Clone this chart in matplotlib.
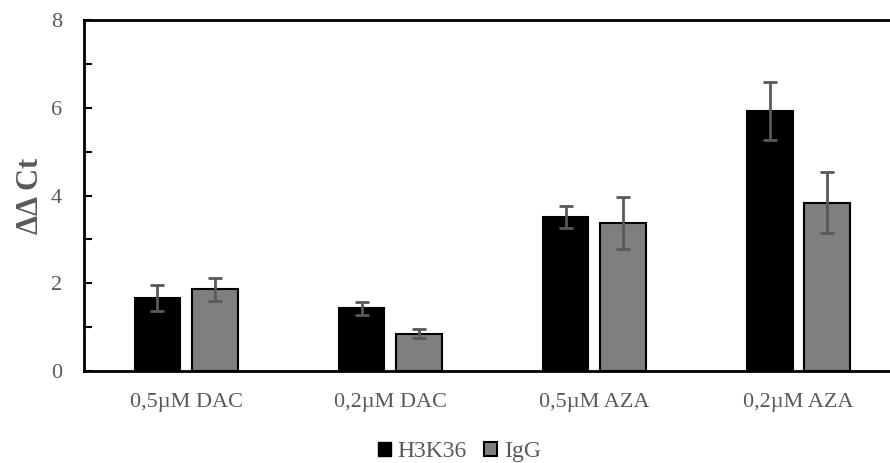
import numpy as np, matplotlib
matplotlib.use("Agg"); import matplotlib.pyplot as plt
from matplotlib.patches import Patch
plt.rcParams.update({"font.family":["Liberation Serif","DejaVu Serif"],"font.size":11})

groups=["0,5µM DAC","0,2µM DAC","0,5µM AZA","0,2µM AZA"]
h3k36=[1.67,1.43,3.50,5.92]
h3k36_err=[0.30,0.15,0.25,0.66]
igg=[1.86,0.85,3.37,3.84]
igg_err=[0.27,0.10,0.60,0.69]

txt="#595959"
fig=plt.figure(figsize=(8.9,4.63),dpi=100)
ax=fig.add_axes([0.0944,0.1987,0.917,0.758])
x=np.arange(len(groups)); w=0.225; off=0.14
ekw=dict(ecolor="#595959",elinewidth=2,capsize=5,capthick=2)
ax.bar(x-off,h3k36,w,color="black",edgecolor="black",lw=1.5,yerr=h3k36_err,error_kw=ekw,label="H3K36")
ax.bar(x+off,igg,w,color="#7f7f7f",edgecolor="black",lw=1.5,yerr=igg_err,error_kw=ekw,label="IgG")
ax.set_xlim(-0.5,3.5); ax.set_ylim(0,8)
ax.set_yticks([0,2,4,6,8]); ax.set_yticks([1,3,5,7],minor=True)
ax.set_xticks(x); ax.set_xticklabels(groups)
ax.tick_params(axis="y",which="both",direction="in",length=6,width=1.5,colors="black",labelcolor=txt,labelsize=16,pad=16)
ax.tick_params(axis="x",length=0,labelcolor=txt,labelsize=16,pad=16)
for s in ax.spines.values(): s.set_linewidth(2)
ax.set_ylabel("ΔΔ Ct",fontsize=22,fontweight="bold",color=txt,labelpad=4)
hs=[Patch(facecolor="black",edgecolor="black"),Patch(facecolor="#7f7f7f",edgecolor="black",lw=1.5)]
fig.legend(hs,["H3K36","IgG"],loc="center",bbox_to_anchor=(0.516,0.024),ncol=2,frameon=False,
           handlelength=0.55,handleheight=0.55,handletextpad=0.3,columnspacing=0.7,fontsize=17,labelcolor=txt)
fig.savefig("out.png",dpi=100)
